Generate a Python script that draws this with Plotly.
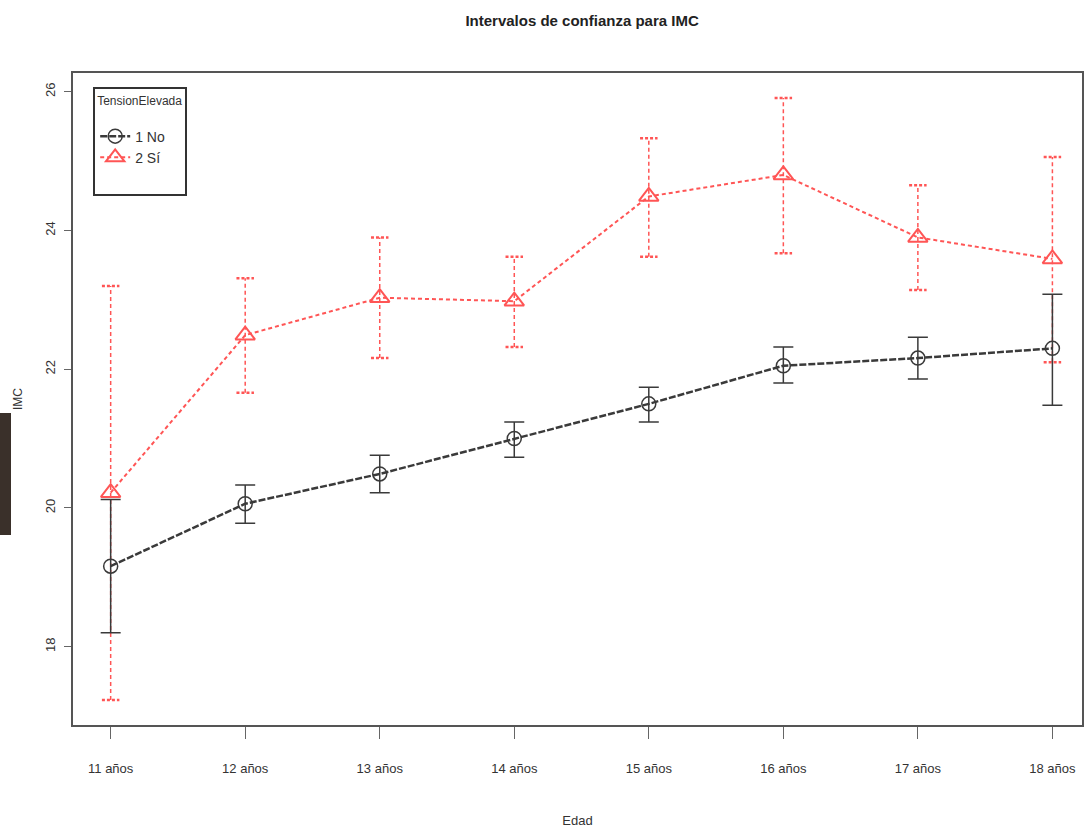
import plotly.graph_objects as go

categories = ["11 años", "12 años", "13 años", "14 años", "15 años", "16 años", "17 años", "18 años"]

no_mean = [19.16, 20.06, 20.49, 21.00, 21.50, 22.05, 22.16, 22.30]
no_low = [18.20, 19.78, 20.22, 20.73, 21.24, 21.80, 21.86, 21.48]
no_high = [20.12, 20.33, 20.76, 21.24, 21.74, 22.32, 22.46, 23.08]

si_mean = [20.22, 22.49, 23.03, 22.98, 24.49, 24.80, 23.90, 23.59]
si_low = [17.23, 21.66, 22.16, 22.32, 23.62, 23.67, 23.14, 22.10]
si_high = [23.20, 23.31, 23.90, 23.62, 25.33, 25.91, 24.65, 25.06]

yticks = [18, 20, 22, 24, 26]

FONT = "Liberation Sans Narrow, Liberation Sans, Arial, sans-serif"
RED = "#ff5555"
BLACK = "#3a3a3a"

xpos = list(range(len(categories)))
cap = 0.065

fig = go.Figure()

# red dashed error bars (verticals + caps)
vx, vy = [], []
for i, lo, hi in zip(xpos, si_low, si_high):
    vx += [i, i, None]
    vy += [lo, hi, None]
cx, cy = [], []
for i, lo, hi in zip(xpos, si_low, si_high):
    cx += [i - cap, i + cap, None, i - cap, i + cap, None]
    cy += [lo, lo, None, hi, hi, None]

fig.add_trace(go.Scatter(x=vx, y=vy, mode="lines", line=dict(color=RED, width=1.5, dash="4px,3px"),
                         showlegend=False, hoverinfo="skip"))
fig.add_trace(go.Scatter(x=cx, y=cy, mode="lines", line=dict(color=RED, width=2.5, dash="3px,2px"),
                         showlegend=False, hoverinfo="skip"))

# black series with solid error bars
fig.add_trace(go.Scatter(
    x=xpos, y=no_mean, mode="lines+markers", name="1 No",
    line=dict(color=BLACK, width=2.5, dash="7px,2px"),
    marker=dict(symbol="circle-open", size=14, color=BLACK, line=dict(width=1.5)),
    error_y=dict(type="data", symmetric=False,
                 array=[h - m for h, m in zip(no_high, no_mean)],
                 arrayminus=[m - l for m, l in zip(no_mean, no_low)],
                 color=BLACK, thickness=1.5, width=10),
))

fig.add_trace(go.Scatter(
    x=xpos, y=si_mean, mode="lines+markers", name="2 Sí",
    line=dict(color=RED, width=2, dash="4px,3px"),
    marker=dict(symbol="triangle-up-open", size=17, color=RED, line=dict(width=2)),
))

# blank legend row for bottom padding of the legend box
fig.add_trace(go.Scatter(x=[None], y=[None], mode="lines", name=" ",
                         line=dict(width=0, color="rgba(0,0,0,0)"), hoverinfo="skip"))

fig.update_layout(
    width=1084, height=834,
    margin=dict(l=73, r=2, t=73, b=109),
    paper_bgcolor="white", plot_bgcolor="white",
    font=dict(family=FONT, size=13, color="#333"),
    title=dict(text="<b>Intervalos de confianza para IMC</b>", x=0.537, xanchor="center",
               y=0.975, yanchor="middle", font=dict(family=FONT, size=15, color="#222")),
    xaxis=dict(range=[-0.28, 7.22], tickmode="array", tickvals=xpos, ticktext=categories,
               showgrid=False, zeroline=False, showline=True, mirror=True, automargin=False,
               linecolor="#555", linewidth=2, ticks="outside", ticklen=12, tickcolor="#666",
               ticklabelstandoff=18,
               tickfont=dict(size=13, color="#333"),
               title=dict(text="Edad", standoff=41, font=dict(size=13, color="#333"))),
    yaxis=dict(range=[16.87, 26.27], tickmode="array", tickvals=yticks,
               showgrid=False, zeroline=False, showline=True, mirror=True, automargin=False,
               linecolor="#555", linewidth=2, ticks="outside", ticklen=7, tickcolor="#666",
               ticklabelstandoff=4,
               tickangle=-90, tickfont=dict(size=13, color="#333"),
               title=dict(text="IMC", standoff=18, font=dict(size=12, color="#333"))),
    legend=dict(x=0.02, y=0.978, xanchor="left", yanchor="top",
                bordercolor="#333", borderwidth=2, bgcolor="white",
                title=dict(text="TensionElevada<br> ", side="top", font=dict(size=12)),
                font=dict(size=14), itemwidth=30, tracegroupgap=0),
    showlegend=True,
)

# dark block at left edge of the screenshot
fig.add_shape(type="rect", xref="paper", yref="paper",
              x0=-73 / 1009, x1=-62 / 1009, y0=(725 - 535) / 652, y1=(725 - 413) / 652,
              fillcolor="#3a302a", line=dict(width=0), layer="above")

fig.write_html("out.html", config={"displayModeBar": False},
               post_script="document.body.style.margin='0px';")
